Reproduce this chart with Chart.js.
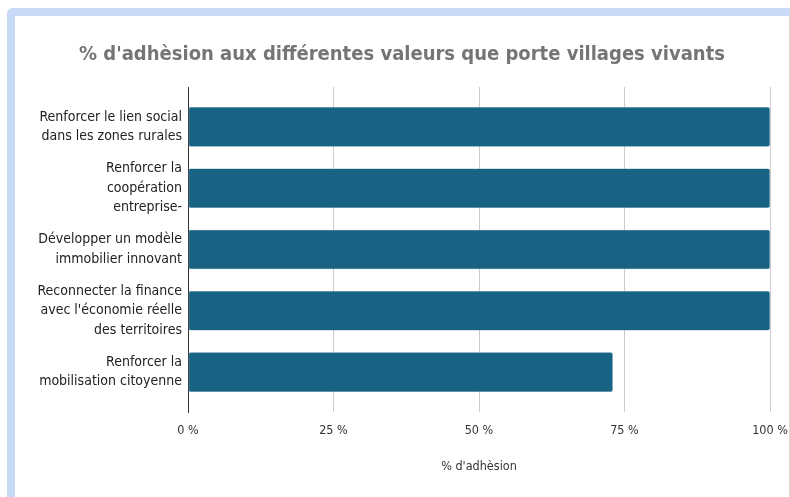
<!DOCTYPE html>
<html>
<head>
<meta charset="utf-8">
<script src="https://cdn.jsdelivr.net/npm/chart.js@4.4.1/dist/chart.umd.min.js"></script>
<style>
html, body { margin: 0; padding: 0; background: #fff; }
#cadre {
  position: absolute; left: 7px; top: 8px; width: 774px; height: 500px;
  border-left: 8px solid #c9daf8; border-top: 8px solid #c9daf8;
  border-right: 1px solid #d9d9d9;
  border-top-left-radius: 6px;
  background: #fff;
}
#graphique { position: absolute; left: 0; top: 0; }
</style>
</head>
<body>
<div id="cadre"><canvas id="graphique" width="774" height="481"></canvas></div>
<script>
// données
const categories = [
  ['Renforcer le lien social', 'dans les zones rurales'],
  ['Renforcer la', 'coopération', 'entreprise-'],
  ['Développer un modèle', 'immobilier innovant'],
  ['Reconnecter la finance', "avec l'économie réelle", 'des territoires'],
  ['Renforcer la', 'mobilisation citoyenne']
];
const adhesion = [100, 100, 100, 100, 73];
const ticksX = [0, 25, 50, 75, 100];

const police = "'DejaVu Sans Condensed', 'DejaVu Sans', sans-serif";

const ctx = document.getElementById('graphique').getContext('2d');
const monGraphique = new Chart(ctx, {
  type: 'bar',
  data: {
    datasets: [{
      label: "% d'adhèsion",
      data: adhesion.map((v, i) => ({ x: v, y: i })),
      backgroundColor: '#186384',
      borderColor: '#4a88a3',
      borderWidth: 0.6,
      borderRadius: 2,
      borderSkipped: false,
      barPercentage: 1,
      categoryPercentage: 0.645
    }]
  },
  options: {
    responsive: false,
    animation: false,
    indexAxis: 'y',
    layout: { padding: 0 },
    plugins: {
      legend: { display: false },
      tooltip: { enabled: false },
      title: {
        display: true,
        text: "% d'adhèsion aux différentes valeurs que porte villages vivants",
        color: '#757575',
        font: { family: police, size: 20, weight: 'bold' },
        padding: { top: 27, bottom: 20 }
      }
    },
    scales: {
      x: {
        type: 'linear',
        min: 0,
        max: 100,
        afterBuildTicks: s => { s.ticks = ticksX.map(v => ({ value: v })); },
        afterFit: s => { s.height = 85; s.paddingRight = 19; },
        ticks: {
          color: '#333',
          font: { family: police, size: 12.5 },
          padding: 11,
          callback: v => v + ' %'
        },
        grid: {
          drawTicks: false,
          color: c => (c.tick && c.tick.value === 0) ? '#333' : '#cccccc',
          lineWidth: 1
        },
        border: { display: false },
        title: {
          display: true,
          text: "% d'adhèsion",
          color: '#333',
          font: { family: police, size: 12.5 },
          padding: { top: 0, bottom: 23 }
        }
      },
      y: {
        type: 'linear',
        reverse: true,
        offset: false,
        min: -0.65,
        max: 4.65,
        afterBuildTicks: s => { s.ticks = categories.map((c, i) => ({ value: i })); },
        afterFit: s => { s.width = 173; },
        ticks: {
          color: '#222',
          font: { family: police, size: 14, lineHeight: 1.38 },
          padding: 6,
          autoSkip: false,
          callback: v => categories[v]
        },
        grid: { display: false, drawTicks: false },
        border: { display: true, color: '#333' }
      }
    }
  }
});
</script>
</body>
</html>
